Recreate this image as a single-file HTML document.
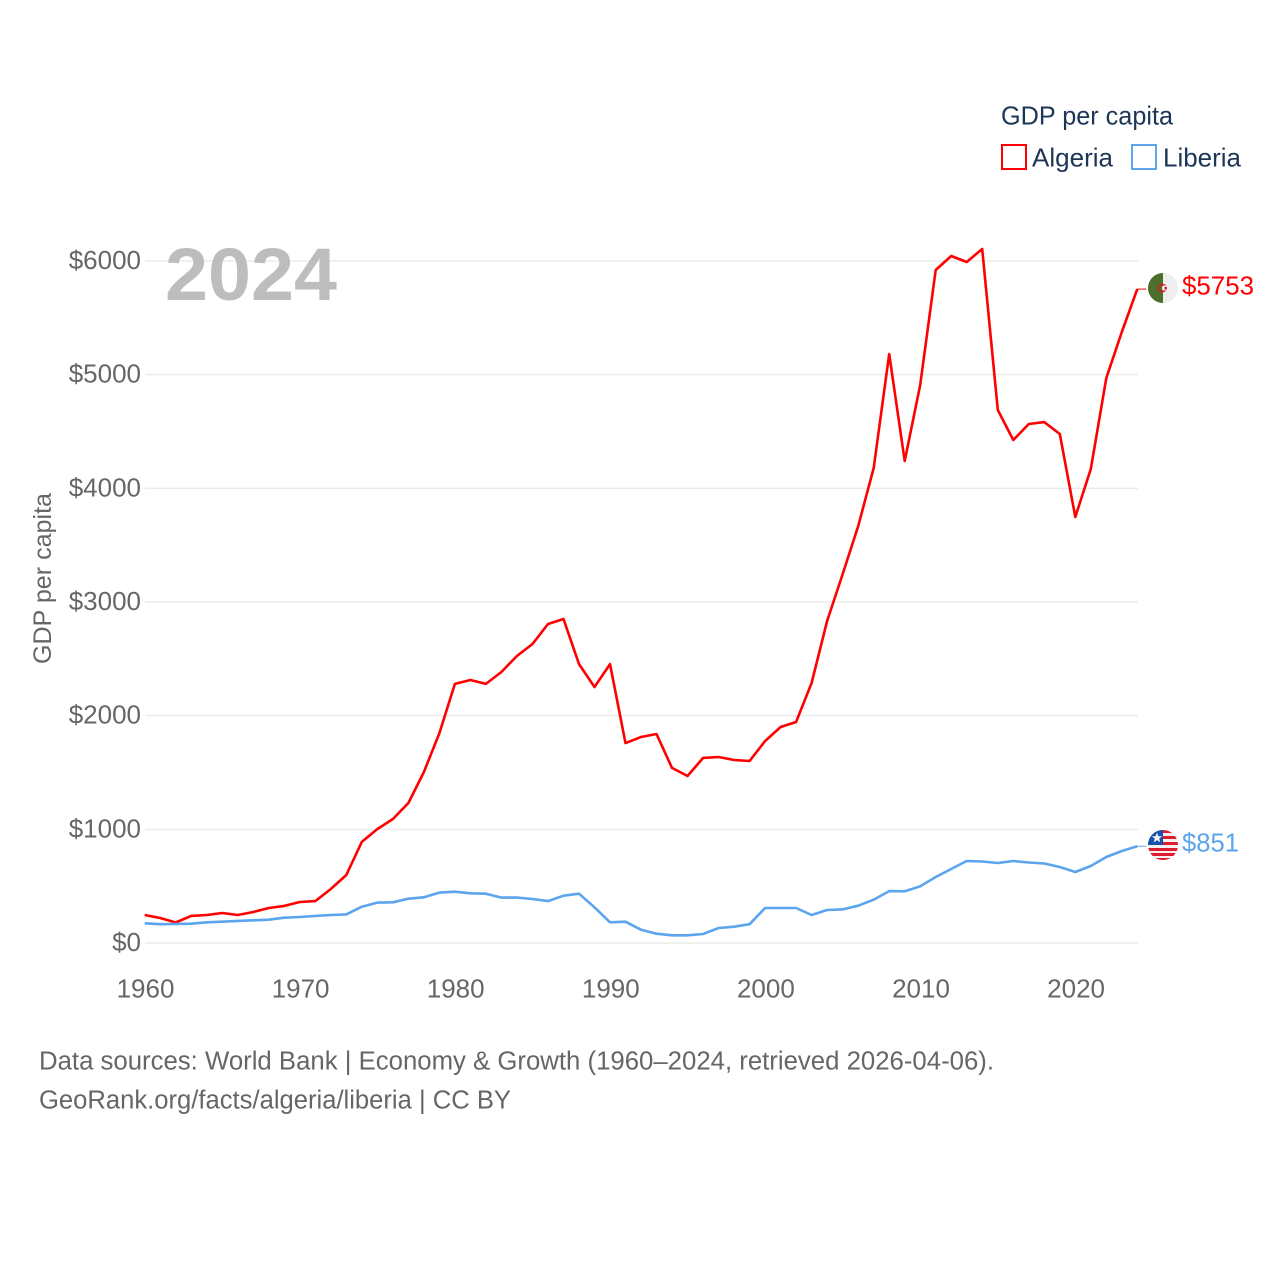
<!DOCTYPE html>
<html lang="en">
<head>
<meta charset="utf-8">
<title>GDP per capita: Algeria and Liberia</title>
<style>
html,body{margin:0;padding:0;background:#fff;}
svg{display:block;font-family:"Liberation Sans",sans-serif;}
</style>
</head>
<body>
<svg id="chart" width="1280" height="1280" viewBox="0 0 1280 1280" xmlns="http://www.w3.org/2000/svg">
  <defs>
    <clipPath id="flag-clip-a"><circle cx="1163" cy="288" r="15"></circle></clipPath>
    <clipPath id="flag-clip-l"><circle cx="1163" cy="845" r="15"></circle></clipPath>
  </defs>
  <rect width="1280" height="1280" fill="#fff"></rect>
  <g id="grid"></g>
  <g id="ylabels"></g>
  <g id="xlabels"></g>
  <text x="165" y="300" font-size="74" font-weight="700" fill="#bdbdbd" textLength="172" lengthAdjust="spacingAndGlyphs">2024</text>
  <text transform="translate(51,578.5) rotate(-90)" text-anchor="middle" font-size="25" fill="#666" textLength="171" lengthAdjust="spacingAndGlyphs">GDP per capita</text>
  <g id="series"></g>

  <g>
    <text x="1001" y="124.5" font-size="26" fill="#1d3557" textLength="172" lengthAdjust="spacingAndGlyphs">GDP per capita</text>
    <rect x="1002" y="145" width="24" height="24" fill="#fff" stroke="#ff0000" stroke-width="2"></rect>
    <text x="1032" y="166.5" font-size="26" fill="#1d3557" textLength="81" lengthAdjust="spacingAndGlyphs">Algeria</text>
    <rect x="1132" y="145" width="24" height="24" fill="#fff" stroke="#5ba4ee" stroke-width="2"></rect>
    <text x="1163" y="166.5" font-size="26" fill="#1d3557" textLength="78" lengthAdjust="spacingAndGlyphs">Liberia</text>
  </g>

  <g clip-path="url(#flag-clip-a)">
    <rect x="1148" y="273" width="30" height="30" fill="#eeeeee"></rect>
    <rect x="1148" y="273" width="15" height="30" fill="#4e6f2c"></rect>
    <circle cx="1162.5" cy="288" r="3.6" fill="none" stroke="#e0182d" stroke-width="1.6"></circle>
    <circle cx="1164.5" cy="288" r="2.6" fill="#eeeeee"></circle>
    <rect x="1164.5" y="287" width="2.4" height="2.4" fill="#e0182d"></rect>
  </g>
  <text x="1182" y="294.5" font-size="26" fill="#ff0000" textLength="72" lengthAdjust="spacingAndGlyphs">$5753</text>

  <g clip-path="url(#flag-clip-l)">
    <rect x="1148" y="830" width="30" height="30" fill="#f4f0f0"></rect>
    <rect x="1148" y="830" width="30" height="3" fill="#dd1c2f"></rect>
    <rect x="1148" y="836" width="30" height="3" fill="#dd1c2f"></rect>
    <rect x="1148" y="842" width="30" height="3" fill="#dd1c2f"></rect>
    <rect x="1148" y="848" width="30" height="3" fill="#dd1c2f"></rect>
    <rect x="1148" y="853" width="30" height="3" fill="#dd1c2f"></rect>
    <rect x="1148" y="858" width="30" height="3" fill="#dd1c2f"></rect>
    <rect x="1148" y="830" width="15" height="15" fill="#1352a8"></rect>
    <polygon points="1157,832.5 1158.4,836.2 1162.2,836.2 1159.2,838.6 1160.3,842.3 1157,840.2 1153.7,842.3 1154.8,838.6 1151.8,836.2 1155.6,836.2" fill="#f2f2f2"></polygon>
  </g>
  <text x="1182" y="851.5" font-size="26" fill="#5ba4ee" textLength="57" lengthAdjust="spacingAndGlyphs">$851</text>

  <text x="39" y="1069.5" font-size="25.5" fill="#666" textLength="955" lengthAdjust="spacingAndGlyphs">Data sources: World Bank | Economy &amp; Growth (1960–2024, retrieved 2026-04-06).</text>
  <text x="39" y="1108.5" font-size="25.5" fill="#666" textLength="472" lengthAdjust="spacingAndGlyphs">GeoRank.org/facts/algeria/liberia | CC BY</text>
</svg>
<script>
const startYear = 1960;
const xTickLabels = [1960, 1970, 1980, 1990, 2000, 2010, 2020];
const yTickValues = [0, 1000, 2000, 3000, 4000, 5000, 6000];
const yTickLabels = ["$0", "$1000", "$2000", "$3000", "$4000", "$5000", "$6000"];
const algeria = [246,220,180,238,246,264,246,273,308,326,361,369,475,598,889,1003,1091,1232,1504,1847,2279,2314,2279,2384,2525,2630,2806,2850,2454,2252,2454,1759,1812,1839,1540,1469,1628,1636,1610,1601,1777,1900,1944,2287,2833,3246,3668,4179,5182,4240,4909,5921,6044,5991,6105,4689,4425,4566,4583,4478,3748,4170,4970,5375,5753];
const liberia = [173,165,167,170,182,187,194,200,205,223,229,238,246,252,319,355,358,390,402,443,451,437,434,399,399,387,369,416,434,314,182,187,117,82,68,68,79,132,143,165,308,308,308,246,290,296,328,381,457,455,499,581,651,721,717,704,721,708,699,669,625,677,757,809,851];

const SVG_NS = "http://www.w3.org/2000/svg";
function xScale(year) { return 144.7 + (year - 1960) * 15.51; }
function yScale(value) { return 943 - value * 0.11367; }

const gridGroup = document.getElementById("grid");
const yGroup = document.getElementById("ylabels");
const xGroup = document.getElementById("xlabels");
const seriesGroup = document.getElementById("series");

yTickValues.forEach(function (v, i) {
  const line = document.createElementNS(SVG_NS, "line");
  
  
  line.setAttribute("x1", 145);
  line.setAttribute("x2", 1138);
  line.setAttribute("y1", yScale(v));
  line.setAttribute("y2", yScale(v));
  line.setAttribute("stroke", "#ebebeb");
  line.setAttribute("stroke-width", "1.5");
  gridGroup.appendChild(line);

  const label = document.createElementNS(SVG_NS, "text");
  
  
  label.setAttribute("x", 141);
  label.setAttribute("y", yScale(v) + 8);
  label.setAttribute("text-anchor", "end");
  label.setAttribute("font-size", "26");
  label.setAttribute("fill", "#666");
  label.textContent = yTickLabels[i];
  yGroup.appendChild(label);
});

xTickLabels.forEach(function (year) {
  const label = document.createElementNS(SVG_NS, "text");
  
  
  label.setAttribute("x", xScale(year) + 0.8);
  label.setAttribute("y", 997.5);
  label.setAttribute("text-anchor", "middle");
  label.setAttribute("font-size", "26");
  label.setAttribute("fill", "#666");
  label.textContent = year;
  xGroup.appendChild(label);
});

function pathFor(values) {
  return values.map(function (v, i) {
    return (i ? "L" : "M") + xScale(startYear + i).toFixed(1) + " " + yScale(v).toFixed(1);
  }).join(" ");
}

const algeriaLine = document.createElementNS(SVG_NS, "path");


algeriaLine.setAttribute("d", pathFor(algeria));
algeriaLine.setAttribute("fill", "none");
algeriaLine.setAttribute("stroke", "#ff0000");
algeriaLine.setAttribute("stroke-width", "2.6");
algeriaLine.setAttribute("stroke-linejoin", "round");

const liberiaLine = document.createElementNS(SVG_NS, "path");


liberiaLine.setAttribute("d", pathFor(liberia));
liberiaLine.setAttribute("fill", "none");
liberiaLine.setAttribute("stroke", "#5ba4ee");
liberiaLine.setAttribute("stroke-width", "2.6");
liberiaLine.setAttribute("stroke-linejoin", "round");

const algeriaLeader = document.createElementNS(SVG_NS, "line");


algeriaLeader.setAttribute("x1", xScale(2024));
algeriaLeader.setAttribute("x2", xScale(2024) + 9);
algeriaLeader.setAttribute("y1", yScale(algeria[algeria.length - 1]));
algeriaLeader.setAttribute("y2", yScale(algeria[algeria.length - 1]));
algeriaLeader.setAttribute("stroke", "#ff0000");
algeriaLeader.setAttribute("stroke-width", "1");

const liberiaLeader = document.createElementNS(SVG_NS, "line");


liberiaLeader.setAttribute("x1", xScale(2024));
liberiaLeader.setAttribute("x2", xScale(2024) + 9);
liberiaLeader.setAttribute("y1", yScale(liberia[liberia.length - 1]));
liberiaLeader.setAttribute("y2", yScale(liberia[liberia.length - 1]));
liberiaLeader.setAttribute("stroke", "#5ba4ee");
liberiaLeader.setAttribute("stroke-width", "1");

seriesGroup.appendChild(algeriaLine);
seriesGroup.appendChild(liberiaLine);
seriesGroup.appendChild(algeriaLeader);
seriesGroup.appendChild(liberiaLeader);
</script>
</body>
</html>
